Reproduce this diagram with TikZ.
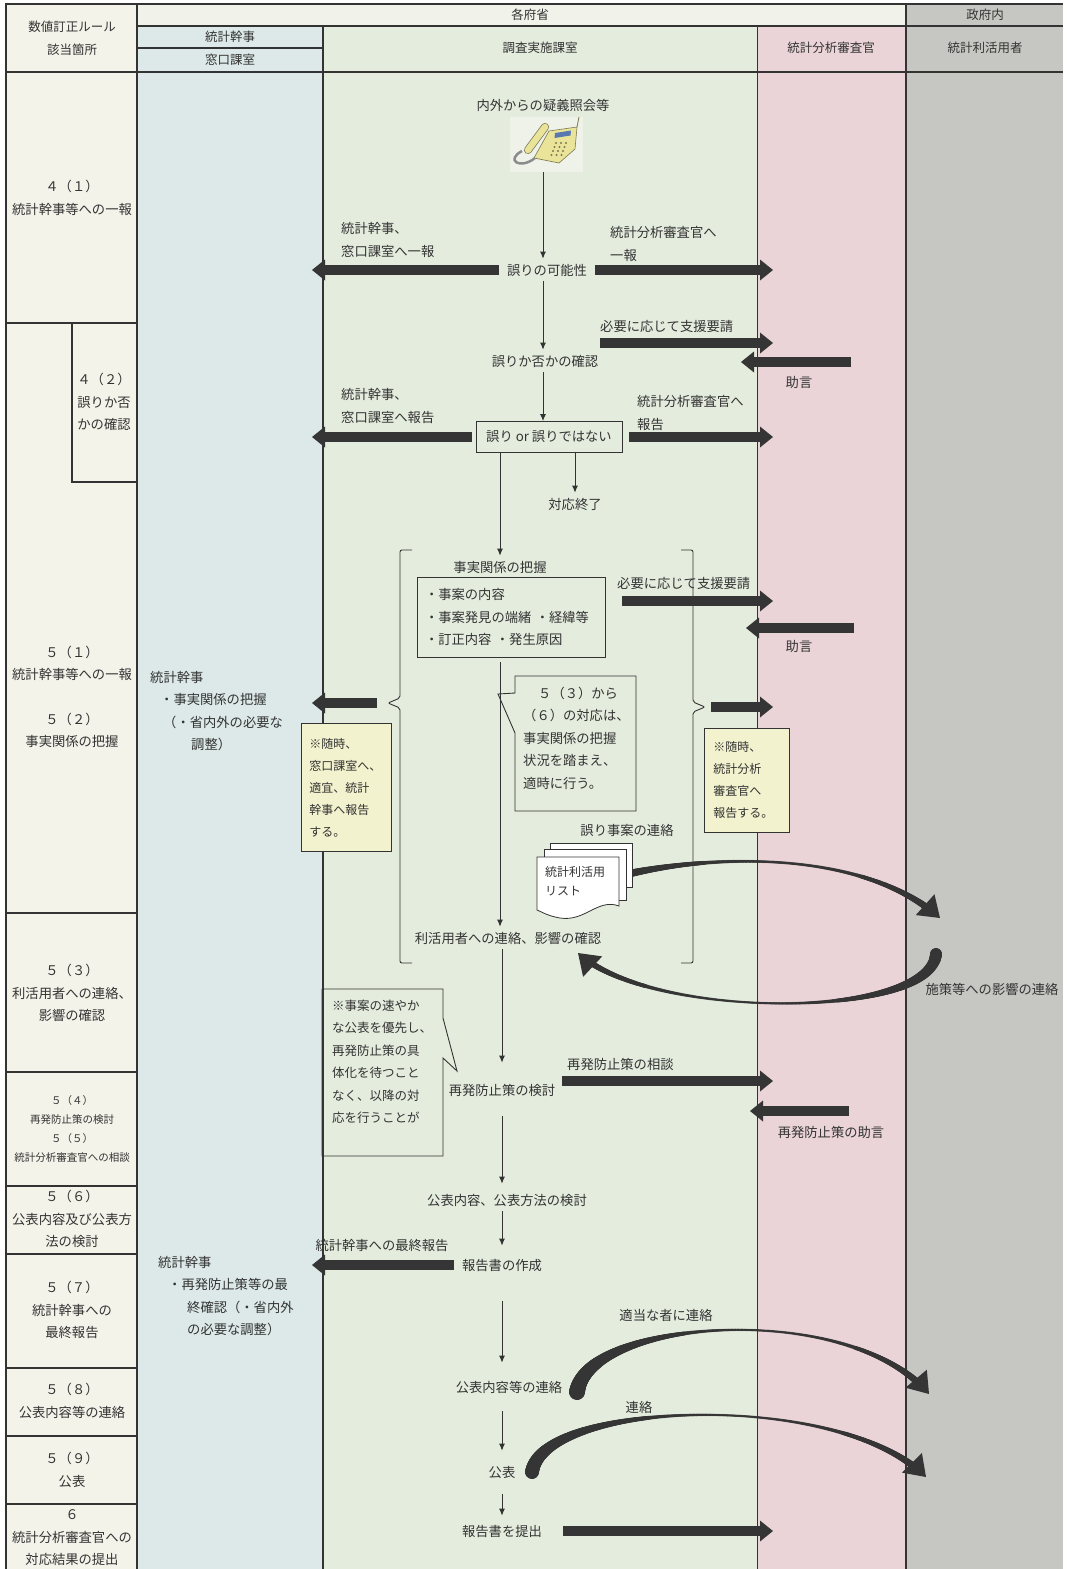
\documentclass[tikz,border=0pt]{standalone}
\usepackage{fontspec}
\newfontfamily\jp{Noto Sans CJK JP}
\usetikzlibrary{arrows.meta,positioning,decorations.markings}
\definecolor{ink}{HTML}{333333}
\definecolor{arrowc}{HTML}{353535}
\definecolor{colrule}{HTML}{F3F3EA}
\definecolor{colhead}{HTML}{F1F2EA}
\definecolor{colblue}{HTML}{DCE9E8}
\definecolor{colgreen}{HTML}{E4ECDE}
\definecolor{colpink}{HTML}{EAD4D8}
\definecolor{colgray}{HTML}{C6C6C3}
\definecolor{notey}{HTML}{F2F2CE}
\definecolor{phoney}{HTML}{EAE49A}
\definecolor{phoned}{HTML}{7D7850}
\definecolor{phonebg}{HTML}{EFF2E9}
\definecolor{dialc}{HTML}{5A78B0}
\definecolor{cordc}{HTML}{8C8C8C}

\begin{document}
\begin{tikzpicture}[x=1pt,y=-1pt,
        every node/.style={font=\jp\fontsize{13.3}{22.5}\selectfont,text=ink,inner xsep=8pt,inner ysep=5pt,align=center},
        hdr/.style={font=\jp\fontsize{12.5}{23}\selectfont},
        small/.style={font=\jp\fontsize{10.5}{19}\selectfont},
        lft/.style={align=left,anchor=west},
        box/.style={draw=ink,line width=0.9pt},
        note/.style={draw=ink,fill=notey,line width=0.9pt,align=left,anchor=north west,font=\jp\fontsize{12}{22}\selectfont},
        flow/.style={draw=ink,line width=0.9pt,-{Latex[length=7pt,width=6pt]}},
        fat/.style={draw=arrowc,line width=10pt,-{Triangle[length=13pt,width=21pt,line width=0pt]}},
        curv/.style n args={3}{draw=arrowc,draw opacity=0,line width=0.2pt,-{Triangle[length=20pt,width=28pt,line width=0pt]},
            postaction={decorate,decoration={markings,
            mark=between positions 0 and -14pt step 0.8pt with {
              \pgfmathsetmacro\tpos{\pgfkeysvalueof{/pgf/decoration/mark info/distance from start}/\pgfdecoratedpathlength}
              \pgfmathsetmacro\trad{#2+(\tpos<0.5 ? (#1-#2)*(1-2*\tpos)^2 : (#3-#2)*(2*\tpos-1)^2)}
              \fill[arrowc] (0,0) circle[radius=\trad pt];}}}},
        rowline/.style={draw=ink,line width=1.5pt},
        ]
\useasboundingbox (0,0) rectangle (1067,1569);

% lanes
\fill[colrule] (6,4) rectangle (137,1569);
\fill[colhead] (137,4) rectangle (906,26);
\fill[colblue] (137,26) rectangle (323,1569);
\fill[colgreen] (323,26) rectangle (757,1569);
\fill[colpink] (757,26) rectangle (906,1569);
\fill[colgray] (906,4) rectangle (1063,1569);

\draw[ink,line width=2pt] (5,4) -- (1063,4);
\draw[ink,line width=1.5pt] (137,26) -- (1063,26);
\draw[ink,line width=1.2pt] (137,48) -- (323,48);
\draw[ink,line width=2.5pt] (5,72) -- (1063,72);
\draw[ink,line width=2.5pt] (6,3) -- (6,1569);
\draw[ink,line width=2pt] (137,4) -- (137,1569);
\draw[ink,line width=1.5pt] (323,26) -- (323,1569);
\draw[ink,line width=1pt] (757,26) -- (757,1569);
\draw[ink,line width=1.2pt] (906,4) -- (906,1569);

\draw[rowline] (6,323) -- (137,323);
\draw[rowline] (72,323) -- (72,482) -- (137,482);
\foreach \yy in {913,1072,1186,1254,1368,1436,1504}
  \draw[rowline] (6,\yy) -- (137,\yy);

% headers
\node[hdr] (hrule) at (72,38) {数値訂正ルール\\該当箇所};
\node[hdr] (hkakufu) at (530,15) {各府省};
\node[hdr] (hseifu) at (985,15) {政府内};
\node[hdr] (hkanji) at (230,37) {統計幹事};
\node[hdr] (hmado) at (230,60) {窓口課室};
\node[hdr] (hchosa) at (540,48) {調査実施課室};
\node[hdr] (hshinsa) at (831,48) {統計分析審査官};
\node[hdr] (hriyo) at (985,48) {統計利活用者};

% rule column
\node (r41) at (72,198) {４（１）\\統計幹事等への一報};
\node (r42) at (104,402) {４（２）\\誤りか否\\かの確認};
\node (r51) at (72,697) {５（１）\\統計幹事等への一報\\[22pt]５（２）\\事実関係の把握};
\node (r53) at (72,993) {５（３）\\利活用者への連絡、\\影響の確認};
\node[small] (r54) at (72,1129) {５（４）\\再発防止策の検討\\５（５）\\統計分析審査官への相談};
\node (r56) at (72,1219) {５（６）\\公表内容及び公表方\\法の検討};
\node (r57) at (72,1310) {５（７）\\統計幹事への\\最終報告};
\node (r58) at (72,1401) {５（８）\\公表内容等の連絡};
\node (r59) at (72,1470) {５（９）\\公表};
\node (r6) at (72,1538) {６\\統計分析審査官への\\対応結果の提出};

% telephone
\fill[phonebg] (510,117) rectangle (583,172);
\filldraw[fill=phoney,draw=phoned,line width=0.6pt] (534,158) -- (549,131) -- (577,127) -- (575,149) -- (559,163) -- cycle;
\fill[dialc] (555,133) -- (571,130.5) -- (570.5,135.5) -- (554.5,138) -- cycle;
\foreach \i in {0,1,2}
  \foreach \j in {0,1,2,3}
    \fill[phoned] (556+5*\i-1.5*\j,143+4*\j) circle (1.1pt);
\draw[phoned,line width=8pt,line cap=round] (528,150) -- (545,127);
\draw[phoney,line width=6.5pt,line cap=round] (528,150) -- (545,127);
\draw[cordc,line width=2.5pt] (535,158) .. controls (520,170) and (505,160) .. (522,151);
\draw[phoned,line width=0.8pt] (577,127) -- (579,117);
\coordinate (tel) at (543,172);

% flow
\node (toi) at (543,105) {内外からの疑義照会等};
\node (kanou) at (547,270) {誤りの可能性};
\node (kakunin) at (545,361) {誤りか否かの確認};
\node[box,minimum width=146pt,minimum height=31pt,inner ysep=2pt] (hantei) at (549,437) {誤り or 誤りではない};
\node (shuryo) at (575,504) {対応終了};
\node (haaku) at (500,567) {事実関係の把握};
\node[box,align=left,text width=172pt,minimum height=80pt] (naiyo) at (511,617) {・事案の内容\\・事案発見の端緒 ・経緯等\\・訂正内容 ・発生原因};
\node (renraku) at (508,938) {利活用者への連絡、影響の確認};
\node (saihatsu) at (502,1090) {再発防止策の検討};
\node (kohyo) at (507,1200) {公表内容、公表方法の検討};
\node (sakusei) at (502,1265) {報告書の作成};
\node (renrakuB) at (509,1387) {公表内容等の連絡};
\node (kohyoB) at (502,1472) {公表};
\node (teishutsu) at (502,1531) {報告書を提出};

\draw[flow] (tel) -- (tel |- kanou.north);
\draw[flow] (kanou.south -| tel) -- (tel |- kakunin.north);
\draw[flow] (kakunin.south -| tel) -- (tel |- hantei.north);
\draw[flow] (hantei.south -| shuryo) -- (shuryo.north);
\draw[flow] (hantei.south -| haaku) -- (haaku.north);
\draw[flow,shorten <=5pt] (naiyo.south -| haaku) -- (haaku |- renraku.north);
\draw[flow,shorten >=16pt] (renraku.south -| saihatsu) -- (saihatsu.north);
\draw[flow,shorten <=15pt,shorten >=5pt] (saihatsu.south) -- (saihatsu.south |- kohyo.north);
\draw[flow,shorten >=8pt] (kohyo.south -| sakusei) -- (sakusei.north);
\draw[flow,shorten <=25pt,shorten >=13pt] (sakusei.south) -- (sakusei.south |- renrakuB.north);
\draw[flow,shorten <=13pt,shorten >=10pt] (renrakuB.south -| kohyoB) -- (kohyoB.north);
\draw[flow,shorten <=11pt,shorten >=4pt] (kohyoB.south) -- (teishutsu.north);

% brackets
\draw[ink,line width=0.9pt,rounded corners=2pt] (412,550) -- (400,550) -- (400,698) -- (388,703) -- (400,708) -- (400,963) -- (412,963);
\draw[ink,line width=0.9pt,rounded corners=2pt] (681,550) -- (693,550) -- (693,702) -- (705,707) -- (693,712) -- (693,963) -- (681,963);
\coordinate (kakkoL) at (388,703);
\coordinate (kakkoR) at (705,707);

% callouts
\draw[box] (515,676) -- (636,676) -- (636,811) -- (515,811) -- (515,733) -- (498,694) -- (515,693) -- cycle;
\node[align=left,anchor=north west,text width=108pt] (chuiA) at (515,681.75) {\hspace*{15pt}５（３）から\\（６）の対応は、\\事実関係の把握\\状況を踏まえ、\\適時に行う。};
\draw[box] (322,989) -- (443,989) -- (443,1018) -- (457,1071) -- (443,1058) -- (443,1156) -- (322,1156) -- cycle;
\node[align=left,anchor=north west,text width=108pt,inner xsep=10pt,font=\jp\fontsize{12.5}{22.4}\selectfont] (chuiB) at (322,994.75) {※事案の速やか\\な公表を優先し、\\再発防止策の具\\体化を待つこと\\なく、以降の対\\応を行うことが};

% thick arrows
\coordinate (c2e) at (312,0);
\coordinate (c4e) at (773,0);
\draw[fat] (kanou.west) -- (kanou.west -| c2e);
\draw[fat] (kanou.east) -- (kanou.east -| c4e);
\node[lft] (hoA) at (333,240) {統計幹事、\\窓口課室へ一報};
\node[lft] (hoB) at (602,244) {統計分析審査官へ\\一報};

\coordinate (shienA) at (600,343);
\draw[fat] (shienA) -- (shienA -| c4e);
\node[lft] (shienAt) at (592,326) {必要に応じて支援要請};
\coordinate (jogenA) at (851,362);
\coordinate (jogenAe) at (741,362);
\draw[fat] (jogenA) -- (jogenAe);
\node (jogenAt) at (799,382) {助言};

\draw[fat,shorten <=4pt] (hantei.west) -- (hantei.west -| c2e);
\draw[fat,shorten <=7pt] (hantei.east) -- (hantei.east -| c4e);
\node[lft] (hoC) at (333,406) {統計幹事、\\窓口課室へ報告};
\node[lft] (hoD) at (629,413) {統計分析審査官へ\\報告};

\coordinate (shienB) at (622,601);
\draw[fat] (shienB) -- (shienB -| c4e);
\node[lft] (shienBt) at (609,583) {必要に応じて支援要請};
\coordinate (jogenB) at (854,628);
\coordinate (jogenBe) at (746,628);
\draw[fat] (jogenB) -- (jogenBe);
\node (jogenBt) at (799,646) {助言};

\draw[fat,shorten <=11pt] (kakkoL) -- (kakkoL -| c2e);
\draw[fat,shorten <=6pt] (kakkoR) -- (kakkoR -| c4e);

\coordinate (soudan) at (562,1081);
\draw[fat] (soudan) -- (soudan -| c4e);
\node[lft] (soudant) at (559,1064) {再発防止策の相談};
\coordinate (jogenC) at (849,1111);
\coordinate (jogenCe) at (750,1111);
\draw[fat] (jogenC) -- (jogenCe);
\node (jogenCt) at (831,1132) {再発防止策の助言};

\draw[fat] (sakusei.west) -- (sakusei.west -| c2e);
\node (saishu) at (382,1245) {統計幹事への最終報告};
\draw[fat,shorten <=13pt] (teishutsu.east) -- (teishutsu.east -| c4e);

% column 2 texts and notes
\node[lft] (kanjiA) at (142,711) {統計幹事\\\hspace*{10pt}・事実関係の把握\\\hspace*{13pt}（・省内外の必要な\\\hspace*{41pt}調整）};
\node[lft] (kanjiB) at (150,1296) {統計幹事\\\hspace*{10pt}・再発防止策等の最\\\hspace*{29pt}終確認（・省内外\\\hspace*{29pt}の必要な調整）};
\node[note,text width=74pt,minimum height=128pt] (memoL) at (301,723) {※随時、\\窓口課室へ、\\適宜、統計\\幹事へ報告\\する。};
\node[note,text width=67pt,inner xsep=9pt,minimum height=104pt] (memoR) at (704,728) {※随時、\\統計分析\\審査官へ\\報告する。};

% user list and curved arrows
\node (jian) at (627,830) {誤り事案の連絡};
\coordinate (listR) at (600,881);
\coordinate (yokyo) at (940,918);
\coordinate (eikyo) at (936,954);
\coordinate (kaeri) at (578,953);
\draw[curv={5}{1.4}{4}] (listR) .. controls (700,852) and (862,848) .. (yokyo);
\filldraw[fill=white,draw=ink,line width=0.8pt] (550,843) rectangle (632,887);
\filldraw[fill=white,draw=ink,line width=0.8pt] (544,849) rectangle (626,900);
\filldraw[fill=white,draw=ink,line width=0.8pt] (537,857) -- (619,857) -- (619,906) .. controls (598,898) and (585,922) .. (560,918) .. controls (548,916) and (542,912) .. (537,910) -- cycle;
\node[align=left,text width=66pt,font=\jp\fontsize{12}{19}\selectfont] (ulist) at (578,881) {統計利活用\\リスト};
\draw[curv={6}{1.2}{3.5}] (eikyo) .. controls (930,1020) and (650,1020) .. (kaeri);
\node (sesaku) at (992,989) {施策等への影響の連絡};

\coordinate (tekitoA) at (577,1392);
\coordinate (tekitoB) at (929,1394);
\draw[curv={8}{1.2}{4}] (tekitoA) .. controls (588,1318) and (850,1300) .. (tekitoB);
\node (tekito) at (666,1315) {適当な者に連絡};
\coordinate (kohyoC) at (532,1472);
\coordinate (kohyoD) at (926,1477);
\draw[curv={7}{1.2}{4}] (kohyoC) .. controls (543,1400) and (840,1390) .. (kohyoD);
\node (renrakuC) at (639,1407) {連絡};
\end{tikzpicture}
\end{document}
